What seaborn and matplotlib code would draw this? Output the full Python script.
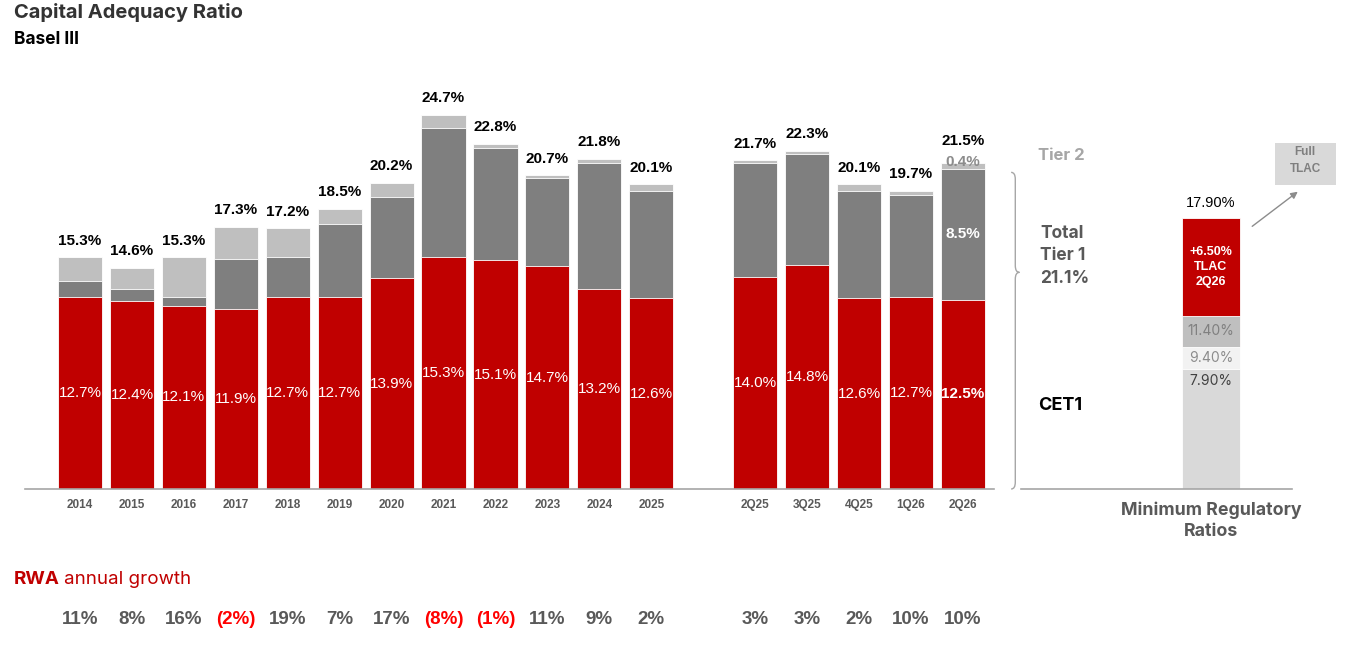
import matplotlib
matplotlib.use("Agg")
import matplotlib.pyplot as plt
import matplotlib.transforms as mtransforms
from matplotlib.path import Path
from matplotlib.patches import PathPatch, Rectangle
import pandas as pd
import seaborn as sns

# ---- data ----
periods = ["2014", "2015", "2016", "2017", "2018", "2019", "2020", "2021", "2022",
           "2023", "2024", "2025", "2Q25", "3Q25", "4Q25", "1Q26", "2Q26"]
n_annual = 12

cet1 = [12.7, 12.4, 12.1, 11.9, 12.7, 12.7, 13.9, 15.3, 15.1, 14.7, 13.2, 12.6,
        14.0, 14.8, 12.6, 12.7, 12.5]
at1 = [1.0, 0.8, 0.6, 3.3, 2.6, 4.8, 5.4, 8.5, 7.4, 5.8, 8.3, 7.1,
       7.5, 7.3, 7.1, 6.7, 8.6]
tier2 = [1.6, 1.4, 2.6, 2.1, 1.9, 1.0, 0.9, 0.9, 0.3, 0.2, 0.3, 0.4,
         0.2, 0.2, 0.4, 0.3, 0.4]
last_labels = {"cet1": "12.5%", "at1": "8.5%", "tier2": "0.4%"}

rwa_growth = [11, 8, 16, -2, 19, 7, 17, -8, -1, 11, 9, 2, 3, 3, 2, 10, 10]

tier1_latest = "21.1%"

min_levels = [7.90, 9.40, 11.40, 17.90]
min_labels = ["7.90%", "9.40%", "11.40%", "17.90%"]
tlac_add = "+6.50%\nTLAC\n2Q26"

RED = "#C00000"
DARK = "#7F7F7F"
LIGHT = "#BFBFBF"
TICK = "#595959"

sns.set_theme(style="white")
plt.rcParams["font.family"] = ["Liberation Sans", "DejaVu Sans"]
HEAD = ["Inter", "Liberation Sans", "DejaVu Sans"]

pos = list(range(n_annual)) + [n_annual + 1 + i for i in range(len(periods) - n_annual)]
df = pd.DataFrame({"pos": pos, "period": periods, "cet1": cet1, "at1": at1, "tier2": tier2})
df["tier1"] = df["cet1"] + df["at1"]
df["total"] = df["tier1"] + df["tier2"]

W, H = 1345, 650
fig = plt.figure(figsize=(W / 100, H / 100), dpi=100)

px_per_pct = 15.15
ymax = 25
ax_left, ax_right, ax_base = 25, 994, 489
ax = fig.add_axes([ax_left / W, 1 - ax_base / H, (ax_right - ax_left) / W, ymax * px_per_pct / H])

# stacked bars drawn as overlapping cumulative layers
for col, color in [("total", LIGHT), ("tier1", DARK), ("cet1", RED)]:
    sns.barplot(data=df, x="pos", y=col, native_scale=True, width=0.85,
                color=color, saturation=1, edgecolor="white", linewidth=0.6, ax=ax)

ax.set_xlim(-1.06, 17.6)
ax.set_ylim(0, ymax)
ax.set_xticks(df["pos"], df["period"])
ax.tick_params(axis="x", length=0, pad=7, labelsize=8.5, labelcolor=TICK)
for t in ax.get_xticklabels():
    t.set_fontweight("bold")
ax.set_yticks([])
ax.set_xlabel("")
ax.set_ylabel("")
sns.despine(ax=ax, left=True)
ax.spines["bottom"].set_color("#A6A6A6")
ax.spines["bottom"].set_linewidth(1.2)

last = len(df) - 1
for i, r in df.iterrows():
    if i == last:
        ax.text(r.pos, r.cet1 / 2, last_labels["cet1"], ha="center", va="center",
                color="white", fontsize=11, fontweight="bold")
        ax.text(r.pos, r.cet1 + r.at1 / 2, last_labels["at1"], ha="center", va="center",
                color="white", fontsize=11, fontweight="bold")
        ax.text(r.pos, r.total + 0.1, last_labels["tier2"], ha="center", va="center",
                color="#8C8C8C", fontsize=11, fontweight="bold")
        ax.text(r.pos, r.total + 1.5, f"{r.total:.1f}%", ha="center", va="center",
                color="black", fontsize=11, fontweight="bold")
    else:
        ax.text(r.pos, r.cet1 / 2, f"{r.cet1:.1f}%", ha="center", va="center",
                color="white", fontsize=11)
        ax.text(r.pos, r.total + 1.1, f"{r.total:.1f}%", ha="center", va="center",
                color="black", fontsize=11, fontweight="bold")

# brace next to the latest bar
bx, bw = 17.93, 0.08
top = df["tier1"].iloc[-1] - 0.2
tip = 14.3
r = 0.45
verts = [(bx, top), (bx + bw, top), (bx + bw, top - r),
         (bx + bw, tip + r),
         (bx + bw, tip), (bx + 2 * bw, tip), (bx + 2 * bw, tip),
         (bx + 2 * bw, tip), (bx + bw, tip), (bx + bw, tip - r),
         (bx + bw, r),
         (bx + bw, 0), (bx, 0), (bx, 0)]
codes = [Path.MOVETO, Path.CURVE3, Path.CURVE3, Path.LINETO,
         Path.CURVE3, Path.CURVE3, Path.LINETO,
         Path.LINETO, Path.CURVE3, Path.CURVE3, Path.LINETO,
         Path.CURVE3, Path.CURVE3, Path.LINETO]
ax.add_patch(PathPatch(Path(verts, codes), fill=False, edgecolor="#A6A6A6",
                       linewidth=1.0, clip_on=False))

# RWA growth row
trans = mtransforms.blended_transform_factory(ax.transData, fig.transFigure)
for p, g in zip(df["pos"], rwa_growth):
    txt = f"{g}%" if g >= 0 else f"({abs(g)}%)"
    ax.text(p, 1 - 620 / H, txt, transform=trans, ha="center", va="center",
            fontsize=13.5, fontweight="bold", color=TICK if g >= 0 else "#FF0000")

# minimum regulatory ratios bar
mx_left, mx_right = 1021, 1292
mx = fig.add_axes([mx_left / W, 1 - ax_base / H, (mx_right - mx_left) / W, ymax * px_per_pct / H])
for lvl, color in zip(reversed(min_levels), [RED, LIGHT, "#F2F2F2", "#D9D9D9"]):
    sns.barplot(x=[0.0], y=[lvl], native_scale=True, width=0.8, color=color,
                saturation=1, edgecolor="white", linewidth=0.6, ax=mx)
unit = 58 / 0.8
mx.set_xlim(-(1211 - mx_left) / unit, (mx_right - 1211) / unit)
mx.set_ylim(0, ymax)
mx.set_xticks([])
mx.set_yticks([])
sns.despine(ax=mx, left=True)
mx.spines["bottom"].set_color("#A6A6A6")
mx.spines["bottom"].set_linewidth(1.2)

mx.text(0, min_levels[0] - 0.75, min_labels[0], ha="center", va="center",
        color="#404040", fontsize=10, family=HEAD)
mx.text(0, (min_levels[0] + min_levels[1]) / 2, min_labels[1], ha="center", va="center",
        color="#8C8C8C", fontsize=10, family=HEAD)
mx.text(0, (min_levels[1] + min_levels[2]) / 2, min_labels[2], ha="center", va="center",
        color="#808080", fontsize=10, family=HEAD)
mx.text(0, (min_levels[2] + min_levels[3]) / 2, tlac_add, ha="center", va="center",
        color="white", fontsize=9, fontweight="bold", linespacing=1.35)
mx.text(0, min_levels[3] + 1.0, min_labels[3], ha="center", va="center",
        color="black", fontsize=10.5)

# headings and side labels
fig.text(14 / W, 1 - 13 / H, "Capital Adequacy Ratio", ha="left", va="center",
         fontsize=14.5, fontweight="bold", color="#333333", family=HEAD)
fig.text(14 / W, 1 - 40 / H, "Basel III", ha="left", va="center",
         fontsize=12.5, fontweight="bold", color="black", family=HEAD)

fig.text(1038 / W, 1 - 156 / H, "Tier 2", ha="left", va="center",
         fontsize=12, fontweight="bold", color="#A6A6A6", family=HEAD)
fig.text(1040 / W, 1 - 256 / H, "Total\nTier 1\n" + tier1_latest, ha="left", va="center",
         fontsize=12.5, fontweight="bold", color="#595959", family=HEAD, linespacing=1.4)
fig.text(1038 / W, 1 - 405 / H, "CET1", ha="left", va="center",
         fontsize=13, fontweight="bold", color="black", family=HEAD)
fig.text(1211 / W, 1 - 521 / H, "Minimum Regulatory\nRatios", ha="center", va="center",
         fontsize=12.8, fontweight="bold", color="#595959", family=HEAD, linespacing=1.3)

fig.add_artist(Rectangle((1275 / W, 1 - 185 / H), 61 / W, 42 / H, transform=fig.transFigure,
                         facecolor="#D9D9D9", edgecolor="none"))
fig.text(1305 / W, 1 - 152 / H, "Full", ha="center", va="center",
         fontsize=8.5, fontweight="bold", color="#7F7F7F")
fig.text(1305 / W, 1 - 169 / H, "TLAC", ha="center", va="center",
         fontsize=8.5, fontweight="bold", color="#7F7F7F")
fig.add_artist(plt.Annotation("", xy=(1300 / W, 1 - 190 / H), xytext=(1250 / W, 1 - 228 / H),
                              xycoords="figure fraction", textcoords="figure fraction",
                              arrowprops=dict(arrowstyle="-|>", color="#8C8C8C", lw=1.0,
                                              mutation_scale=10)))

# "RWA annual growth" with mixed weight
rwa = fig.text(14 / W, 1 - 580 / H, "RWA", ha="left", va="center",
               fontsize=13.5, fontweight="bold", color=RED, family=HEAD)
renderer = fig.canvas.get_renderer()
bb = rwa.get_window_extent(renderer)
fig.text(bb.x1 / W + 4 / W, 1 - 580 / H, "annual growth", ha="left", va="center",
         fontsize=13.5, color=RED, family=HEAD)

fig.savefig("out.png", dpi=100)
